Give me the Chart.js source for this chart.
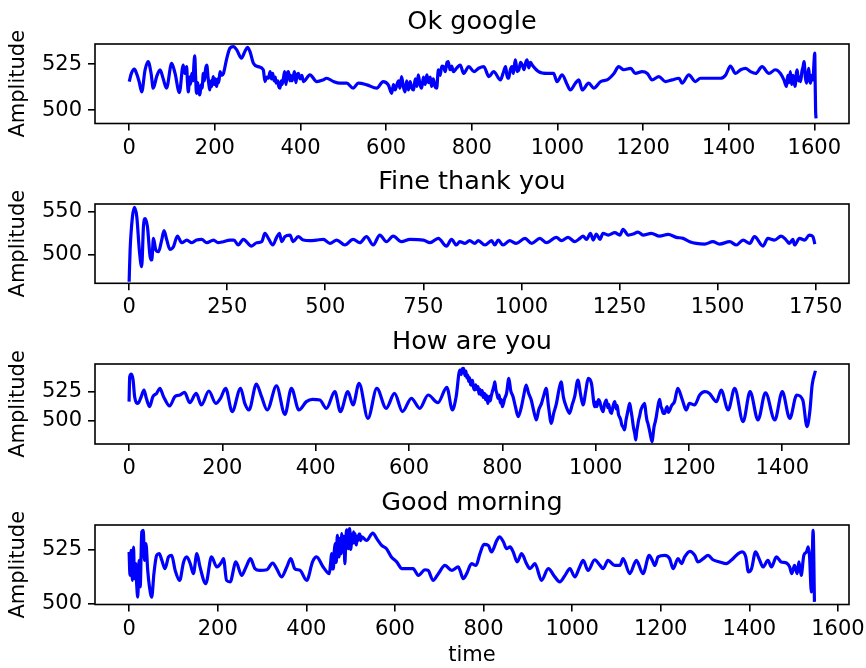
<!DOCTYPE html>
<html><head><meta charset="utf-8">
<script src="https://cdn.jsdelivr.net/npm/chart.js@4.4.1/dist/chart.umd.min.js"></script>
<style>
html,body{margin:0;padding:0;background:#fff;}
#wrap{position:relative;width:866px;height:668px;overflow:hidden;background:#fff;}
canvas{position:absolute;left:0;}
</style></head><body>
<div id="wrap">
<canvas id="c1" width="866" height="160" style="top:0px"></canvas>
<canvas id="c2" width="866" height="160" style="top:160px"></canvas>
<canvas id="c3" width="866" height="161" style="top:320px"></canvas>
<canvas id="c4" width="866" height="187" style="top:481px"></canvas>
</div>
<script>
// ---- data: [time, amplitude] ----
const okGoogle = [[0,515.6],[5,520],[12,522.3],[17,520],[23,515.6],[29,510],[37,522],[44,526.5],[51,520],[56,512],[64,518.3],[72,522],[79,517.4],[87,512],[99,525.5],[107,520],[117,509.6],[126,524.6],[130,520],[134,523.7],[136,515],[138,510],[141,518],[143,514],[146,520],[149,516],[151,525],[153,529.5],[155,518],[157,509.2],[160,515],[162,510],[165,508.3],[168,514],[170,512],[173,520],[176,516],[178,522],[181,524.6],[184,518],[186,514],[188,511],[191,516],[193,513],[196,518.3],[199,514],[201,517],[204,512.9],[207,517],[209,515],[212,521],[216,519],[220,520],[227,527.4],[235,533.7],[243,534.6],[251,532.8],[262,528.3],[270,531.9],[276,534.2],[282,531.9],[290,525.5],[301,523.7],[313,522],[317,515.6],[321,518],[325,517.4],[329,521],[332,517],[335,520],[338,516],[341,518],[343,514.7],[347,516],[349,513],[352,512],[355,516],[357,514],[360,517.4],[363,521],[366,514],[369,520],[372,521],[375,516],[377,519],[380,516],[383,518.3],[386,521],[389,515],[392,519],[395,520],[399,517],[403,519],[407,515.6],[422,519.2],[438,515.6],[453,516.5],[461,517.4],[477,515.6],[492,514.7],[508,514.7],[523,512],[535,514.7],[555,513.8],[578,512],[593,515.6],[605,513.8],[613,509.2],[617,514],[621,511],[625,513.8],[629,516],[632,512],[636,518.3],[640,513],[644,510],[648,516],[652,511],[656,515.6],[660,512],[664,511],[668,517],[672,513],[675,519.2],[679,514],[683,512],[687,518],[691,514],[695,519.2],[699,515],[703,518],[706,512.9],[710,517],[714,513],[718,512],[722,522],[726,519],[730,524],[734,523.7],[738,521],[742,526],[745,526.5],[749,522],[753,524],[757,521],[765,523],[773,524.6],[781,520],[793,523.7],[805,521],[816,522.8],[828,523.7],[840,518.3],[851,521],[867,516.5],[873,520],[879,523.7],[882,519],[886,517.4],[890,522],[894,523.7],[897,520],[900,525],[902,527.4],[906,521],[910,522],[914,526],[918,524.6],[922,522],[926,526],[929,527.4],[933,523],[937,526],[941,524.6],[956,521],[976,520],[991,520],[999,515.6],[1011,519.2],[1023,513.8],[1030,511],[1042,514.7],[1050,516.5],[1058,511],[1073,514.7],[1085,512],[1101,515.6],[1116,516.5],[1132,520],[1143,523.7],[1155,522],[1171,522.8],[1182,520],[1198,521],[1210,520],[1221,516.5],[1237,518.3],[1252,515.6],[1268,516.5],[1284,517.4],[1291,514.7],[1307,519.2],[1322,515.6],[1334,517.4],[1350,517.4],[1365,517.4],[1381,517.4],[1393,519.2],[1404,524],[1416,520],[1428,522],[1439,522.8],[1451,521],[1463,520],[1478,523.7],[1494,520],[1509,522],[1521,520],[1529,516.5],[1535,512.9],[1538,519],[1541,515],[1544,521],[1547,514],[1550,519],[1552,516.5],[1555,513],[1558,520],[1560,522],[1563,516],[1566,518],[1568,515.6],[1571,521],[1574,524],[1576,526.5],[1579,518],[1582,514.7],[1585,520],[1587,522.8],[1589,517],[1591,514.7],[1594,519],[1597,516.5],[1599,525],[1601,531],[1602,515],[1603,500],[1604,495.6]];

const fineThankYou = [[0,467.8],[2.5,505],[8.5,544],[13.6,555],[19.5,544],[26,505],[32,485.4],[36.5,532.4],[40.7,542],[46.7,532.4],[53.5,497.2],[57.7,493.3],[62,518.7],[68,505],[74.7,503],[83,516.7],[89,527.7],[96,516.7],[104,505.8],[113,508.9],[123,521.4],[134,513.6],[147,516.7],[160,513.6],[172,516.7],[185,517.5],[198,513.6],[215,516.7],[227,513.6],[240,514.8],[257,516.7],[267,516.7],[278,510.9],[291,517.5],[312,509.7],[325,513.6],[338,514.8],[346,524.6],[355,518.7],[366,510.9],[376,519.9],[383,524.6],[389,514.8],[397,520.7],[410,522.6],[418,514.8],[431,520.7],[444,516.7],[461,516],[478,516.7],[495,517.5],[512,512.8],[529,516.7],[550,510.9],[571,517.5],[588,513.6],[605,520.7],[622,510.9],[639,522.6],[656,514.8],[673,521.4],[694,514.8],[716,517.5],[750,516.7],[767,513.6],[788,518.7],[809,509.7],[822,517.5],[834,510.9],[843,514.8],[856,512.8],[868,516],[881,512.8],[890,516],[907,510.9],[924,516],[932,510.9],[941,516.7],[953,510.9],[970,516],[987,512.8],[1009,518.7],[1026,512.8],[1047,518.7],[1064,513.6],[1089,519.9],[1102,516],[1119,519.9],[1136,514.8],[1149,518.7],[1157,521.4],[1166,517.5],[1176,524.6],[1183,516.7],[1191,523.8],[1200,517.5],[1208,524.6],[1221,522.6],[1238,525.4],[1251,522.6],[1259,529.3],[1272,522.6],[1285,523.8],[1297,526.1],[1310,522.6],[1331,524.6],[1352,521.4],[1374,523.4],[1395,519.9],[1412,518.7],[1429,514.8],[1446,512.8],[1467,512],[1488,514.8],[1505,512],[1531,514.8],[1548,510.9],[1565,516.7],[1582,512.8],[1594,520.7],[1616,509.7],[1628,518.7],[1645,516.7],[1662,521.4],[1675,516.7],[1683,512.8],[1692,517.5],[1696,510.9],[1709,518.7],[1722,516.7],[1734,522.6],[1743,520.7],[1748,512]];

const howAreYou = [[0,516.3],[1.4,538],[5,540.4],[8.6,535.2],[12,520.6],[19,514.8],[26,520.6],[32,526.5],[37,519.2],[44,511.9],[51,520.6],[59,523.5],[66,527.9],[74,520.6],[87,512.5],[98,520.6],[109,522.1],[119,524.4],[130,515.4],[144,523.5],[155,513.4],[171,525.6],[186,514.8],[196,519.2],[207,527.9],[221,507.6],[239,527.9],[248,514.8],[257,509],[273,531.7],[284,520.6],[296,509],[316,530],[334,505.2],[348,527.9],[364,509],[380,516.3],[393,518.3],[409,517.7],[423,510.5],[441,525],[453,507.6],[469,525],[480,513.4],[493,532.3],[512,501.7],[531,527.9],[551,510.5],[569,523.5],[586,507.6],[605,519.2],[623,510.5],[641,522.1],[662,515.4],[681,528.8],[693,509],[701,520.6],[709,543.9],[712,540],[714,545],[717,545.3],[720,539],[722,543],[724,537],[726,539.5],[728,534],[730,537],[732,531],[734,530.8],[736,535],[738,529],[741,526.5],[743,531],[745,527],[748,529.4],[750,523],[752,527],[755,522.1],[757,526],[759,520],[762,523.5],[764,518],[766,522],[769,514.8],[772,521],[774,517],[776,520.6],[778,524],[780,527],[782,530],[784,533.7],[786,527],[788,524],[791,519.2],[793,522],[796,515],[798,518],[800,511.9],[805,519],[809,523.5],[814,536.6],[818,526],[823,520.6],[828,512],[834,503.2],[841,511.9],[846,522],[851,530.8],[856,524],[862,517.7],[868,507],[873,500.3],[878,509],[884,514.8],[889,522],[894,527.9],[899,512],[905,497.4],[910,506],[916,514.8],[921,526],[926,533.7],[931,520],[937,511.9],[944,506.1],[950,514],[955,520.6],[962,535.2],[968,522],[973,513.4],[979,526],[984,536.6],[991,532.3],[998,511.9],[1001,516],[1003,512],[1006,518],[1009,516.3],[1012,511],[1016,507.6],[1019,514],[1023,517.7],[1026,511],[1028,514],[1031,508],[1034,506.1],[1037,512],[1041,516.3],[1044,510],[1046,513],[1049,505],[1051,503.2],[1054,500],[1056,496],[1059,494],[1062,491.6],[1065,500],[1067,504],[1070,510],[1073,514.8],[1076,508],[1078,503],[1081,494],[1084,488],[1086,482.8],[1088,490],[1090,495],[1092,500],[1094,503.2],[1097,509],[1100,512],[1105,514.8],[1108,505],[1110,500],[1112,497.4],[1115,492],[1117,488],[1119,484],[1121,481.4],[1123,487],[1125,494],[1128,499],[1130,503.2],[1133,511],[1137,518.3],[1140,512],[1142,510],[1145,506],[1148,506.1],[1151,510],[1153,512],[1156,507],[1159,509],[1163,513],[1169,516.3],[1176,527.9],[1186,517.7],[1194,509],[1201,514.8],[1212,513.4],[1223,522.1],[1234,525],[1244,523.5],[1259,516.3],[1269,526.5],[1284,509],[1298,527.9],[1316,498.8],[1331,525],[1348,500.3],[1364,524.1],[1384,500.3],[1400,525],[1416,501.7],[1431,522.1],[1444,517.7],[1453,494.5],[1459,507.6],[1464,530.8],[1471,543.3]];

const goodMorning = [[0,523.8],[2,513],[4.5,524.5],[7.5,510.7],[10,526],[12,511.5],[15,518.4],[17,509.2],[19.5,503],[22.5,519.9],[25,507.7],[28.6,533],[32,533.7],[34.6,519.9],[38,527.6],[42,515.3],[46,507.7],[51,503],[56,513.8],[62,522.2],[68,523],[74,519.9],[81,516.1],[89,521.5],[96,522.2],[104,515.3],[114,510.7],[123,519.2],[130,521.5],[138,518.4],[145,513.8],[153,523],[160,516.9],[173,509.2],[186,521.5],[198,516.9],[209,519.2],[213,520.7],[220,510.7],[228,510],[241,519.2],[254,513],[264,516.9],[274,520.7],[284,516.1],[295,515.3],[311,515.6],[324,518.7],[333,516.1],[344,512.3],[356,516.9],[365,520.7],[374,516.1],[386,515.3],[401,510.7],[414,519.2],[423,521.5],[438,516.9],[452,513.8],[455,519],[457,523],[459,516],[461,516],[463,524],[465,527.6],[467,519],[468,520],[470,531.4],[472,524],[474,521.5],[476,530],[477,529],[479,523],[480,532.2],[482,527],[483,525.3],[485,531],[487,518.4],[489,528],[491,534],[493,527],[495,525.3],[496,532],[498,534.5],[500,525],[501,526],[503,532],[504,527.6],[506,531],[507,533],[509,528],[510,532.2],[512,528],[513,527],[515,531],[517,529.1],[519,532],[521,532],[523,529],[525,530.7],[536,529.1],[550,532.5],[559,529.9],[570,526.8],[581,525.3],[592,521.5],[604,519.2],[616,516.1],[632,516.1],[641,516.1],[653,513],[668,515.6],[675,515.3],[686,510.7],[698,513.8],[713,517.6],[728,515.3],[743,516.9],[747,515.3],[754,511.5],[762,513.8],[773,518.4],[783,517.6],[792,523],[801,527.3],[811,526.8],[818,523.8],[830,529.1],[836,530.7],[845,528.4],[852,525.3],[860,526.1],[867,523.8],[876,519.2],[886,523],[897,518.4],[905,516.1],[916,518.4],[931,510.7],[946,516.1],[961,512.3],[972,510],[984,513],[995,516.1],[1006,512.3],[1017,516.9],[1025,519.9],[1036,515.3],[1051,520.2],[1063,517.6],[1070,516.1],[1081,519.9],[1096,517.6],[1108,517.6],[1115,520.7],[1130,513.8],[1145,519.9],[1160,513.8],[1174,522.2],[1181,519.9],[1187,517.6],[1194,521.5],[1209,522.2],[1220,520.7],[1228,516.1],[1239,520.7],[1247,518.4],[1254,521.5],[1266,524.1],[1277,522.2],[1284,519.2],[1296,520.7],[1307,522.2],[1318,520.2],[1333,519.2],[1348,518.4],[1363,520.7],[1375,523],[1384,523.8],[1392,521.5],[1398,514.6],[1405,516.1],[1414,523.8],[1422,520.7],[1431,516.9],[1442,519.9],[1450,516.9],[1461,521.5],[1472,519.2],[1484,518.7],[1491,516.9],[1496,513.8],[1502,517.6],[1508,513.8],[1512,519.2],[1517,513],[1523,522.2],[1529,523.8],[1533,526.1],[1536,521.5],[1540,505.4],[1544,533.7],[1547,500.8]];

const panelTitles = ['Ok google', 'Fine thank you', 'How are you', 'Good morning'];
const xTicksA = [0, 200, 400, 600, 800, 1000, 1200, 1400, 1600];
const xTicksB = [0, 250, 500, 750, 1000, 1250, 1500, 1750];
const xTicksC = [0, 200, 400, 600, 800, 1000, 1200, 1400];
const yTicksA = [500, 525];
const yTicksB = [500, 550];
const yLabel = 'Amplitude';
const xLabel = 'time';

// ---- rendering ----
const FONT = "'DejaVu Sans', 'Liberation Sans', sans-serif";
Chart.defaults.font.family = FONT;
Chart.defaults.color = '#000';

const framePlugin = {
  id: 'frame',
  afterDatasetsDraw(chart) {
    const a = chart.chartArea, ctx = chart.ctx;
    ctx.save();
    ctx.strokeStyle = '#000';
    ctx.lineWidth = 1.6;
    ctx.strokeRect(a.left, a.top, a.right - a.left, a.bottom - a.top);
    ctx.restore();
  }
};

function zeroPad(ax) { ax.paddingLeft = 0; ax.paddingRight = 0; ax.paddingTop = 0; ax.paddingBottom = 0; }

function makePanel(id, title, series, xTicks, yTicks, xr, yr, xAxisH, showX) {
  const tickGrid = {display: true, drawOnChartArea: false, drawTicks: true, tickLength: 7,
                    tickWidth: 1.6, tickColor: '#000', color: '#000', lineWidth: 1.6};
  new Chart(document.getElementById(id), {
    type: 'line',
    data: { datasets: [{
      data: series.map(p => ({x: p[0], y: p[1]})),
      borderColor: '#0000ff', borderWidth: 3.2, pointRadius: 0, fill: false,
      cubicInterpolationMode: 'monotone', borderJoinStyle: 'round', borderCapStyle: 'butt'
    }]},
    options: {
      responsive: false, animation: false, devicePixelRatio: 1, events: [],
      layout: { padding: {left: 0, right: 17, top: 0, bottom: 0}, autoPadding: false },
      plugins: {
        legend: {display: false}, tooltip: {enabled: false},
        title: { display: true, text: title, fullSize: false, color: '#000',
                 font: {family: FONT, size: 25.5, weight: 'normal', lineHeight: 1.2},
                 padding: {top: 6.7, bottom: 6.7} }
      },
      scales: {
        x: {
          type: 'linear', min: xr[0], max: xr[1],
          afterBuildTicks: ax => { ax.ticks = xTicks.map(v => ({value: v})); },
          afterFit: ax => { ax.height = xAxisH; zeroPad(ax); },
          grid: tickGrid, border: {display: false},
          ticks: {autoSkip: false, maxRotation: 0, minRotation: 0, padding: 5, color: '#000',
                  font: {family: FONT, size: 21}, callback: v => String(v)},
          title: {display: showX, text: xLabel, color: '#000',
                  font: {family: FONT, size: 21}, padding: {top: 0, bottom: 0}}
        },
        y: {
          type: 'linear', min: yr[0], max: yr[1],
          afterBuildTicks: ax => { ax.ticks = yTicks.map(v => ({value: v})); },
          afterFit: ax => { ax.width = 95; zeroPad(ax); },
          grid: tickGrid, border: {display: false},
          ticks: {padding: 6, color: '#000', font: {family: FONT, size: 21}, callback: v => String(v)},
          title: {display: true, text: yLabel, color: '#000',
                  font: {family: FONT, size: 21}, padding: {top: 6.4, bottom: 0}}
        }
      }
    },
    plugins: [framePlugin]
  });
}

makePanel('c1', panelTitles[0], okGoogle, xTicksA, yTicksA, [-80, 1681], [492.8, 536.0], 36.5, false);
makePanel('c2', panelTitles[1], fineThankYou, xTicksB, yTicksB, [-87, 1835], [466.0, 559.0], 36.7, false);
makePanel('c3', panelTitles[2], howAreYou, xTicksC, yTicksA, [-73, 1543], [479.3, 549.2], 37, false);
makePanel('c4', panelTitles[3], goodMorning, xTicksA, yTicksA, [-77, 1625], [499.6, 536.2], 63.5, true);
</script>
</body></html>
